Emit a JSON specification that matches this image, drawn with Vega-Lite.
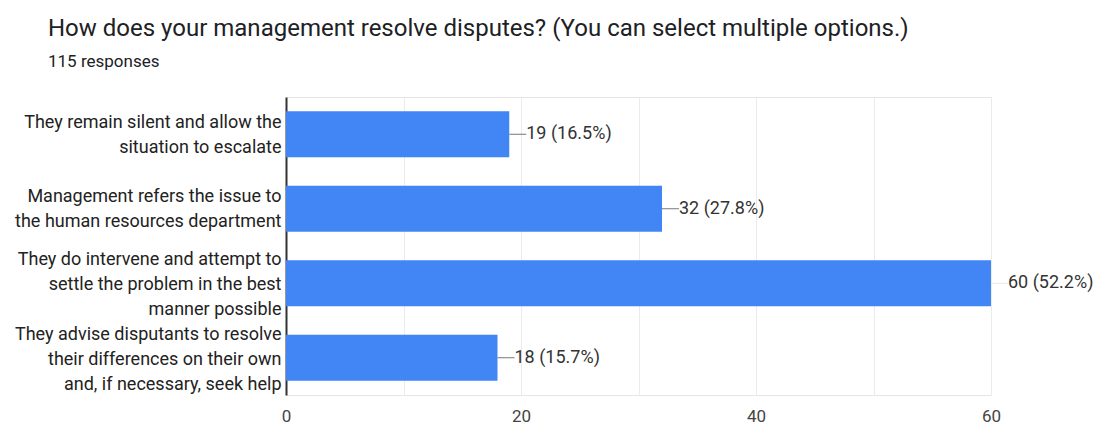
{
  "$schema": "https://vega.github.io/schema/vega-lite/v6.json",
  "autosize": {"type": "none"},
  "width": 705,
  "height": 298,
  "padding": {"left": 286, "top": 97, "right": 109, "bottom": 30},
  "background": "white",
  "config": {
    "font": "Roboto",
    "view": {"stroke": "#e6e6e6", "strokeWidth": 1}
  },
  "title": {
    "text": "How does your management resolve disputes? (You can select multiple options.)",
    "subtitle": "115 responses",
    "anchor": "start",
    "frame": "group",
    "dx": -238,
    "offset": 27,
    "fontSize": 24,
    "fontWeight": "normal",
    "color": "#202124",
    "subtitleFontSize": 17,
    "subtitleColor": "#202124",
    "subtitlePadding": 13
  },
  "data": {
    "values": [
      {"option": "They remain silent and allow the|situation to escalate", "count": 19, "label": "19 (16.5%)"},
      {"option": "Management refers the issue to|the human resources department", "count": 32, "label": "32 (27.8%)"},
      {"option": "They do intervene and attempt to|settle the problem in the best|manner possible", "count": 60, "label": "60 (52.2%)"},
      {"option": "They advise disputants to resolve|their differences on their own|and, if necessary, seek help", "count": 18, "label": "18 (15.7%)"}
    ]
  },
  "encoding": {
    "y": {
      "field": "option",
      "type": "nominal",
      "sort": null,
      "scale": {"paddingInner": 0.38, "paddingOuter": 0.19},
      "axis": {
        "title": null,
        "labelExpr": "split(datum.label, '|')",
        "labelFontSize": 18,
        "labelColor": "#222222",
        "labelLineHeight": 25,
        "labelLimit": 0,
        "labelPadding": 5,
        "labelBaseline": "middle",
        "labelOffset": {"condition": {"test": "length(split(datum.value, '|')) === 3", "value": -23}, "value": -11.5},
        "ticks": false,
        "domainColor": "#333333",
        "domainWidth": 2,
        "grid": false
      }
    }
  },
  "layer": [
    {
      "mark": {"type": "bar", "color": "#4285F4"},
      "encoding": {
        "x": {
          "field": "count",
          "type": "quantitative",
          "scale": {"domain": [0, 60], "nice": false},
          "axis": {
            "title": null,
            "values": [0, 10, 20, 30, 40, 50, 60],
            "labelExpr": "datum.value % 20 === 0 ? datum.label : ''",
            "labelFontSize": 17,
            "labelColor": "#444444",
            "labelPadding": 13,
            "labelFlush": false,
            "ticks": false,
            "domain": false,
            "grid": true,
            "gridColor": "#ebebeb",
            "gridWidth": 1
          }
        }
      }
    },
    {
      "mark": {"type": "rule", "strokeWidth": 1, "x2Offset": 17},
      "encoding": {
        "x": {"field": "count", "type": "quantitative"},
        "x2": {"field": "count"},
        "color": {"condition": {"test": "datum.count >= 60", "value": "#e8e8e8"}, "value": "#777777"}
      }
    },
    {
      "mark": {"type": "text", "align": "left", "baseline": "middle", "dx": 17, "fontSize": 18, "color": "#333333"},
      "encoding": {
        "x": {"field": "count", "type": "quantitative"},
        "text": {"field": "label"}
      }
    }
  ]
}
